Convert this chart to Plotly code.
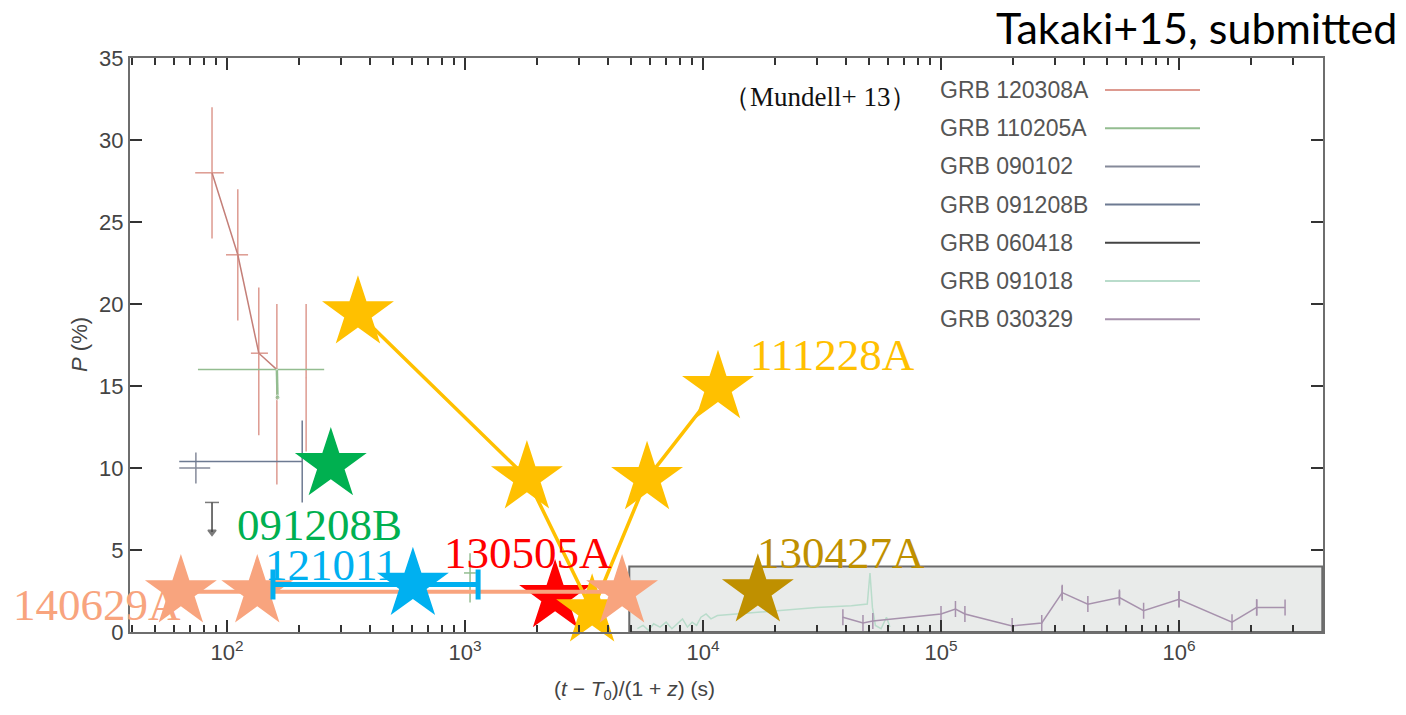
import math
import plotly.graph_objects as go

# ---------------- data ----------------
# Mundell+13 comparison sample
grb120308a_t = [86.5, 111, 136, 162]
grb120308a_p = [28, 23, 17, 16]
grb120308a_p_hi = [4, 4, 4, 4]
grb120308a_p_lo = [4, 4, 5, 7]
grb120308a_t_hi = [10.5, 11.6, 12.6, 0]
grb120308a_t_lo = [13, 12, 10, 0]
grb120308a_extra_t = [215]
grb120308a_extra_p = [15.5]
grb120308a_extra_err = [4.5]

grb110205a_t = [162, 163]
grb110205a_p = [16, 14.3]
grb110205a_t_hi = [94, 0]
grb110205a_t_lo = [86.5, 0]
grb110205a_late_t = [1050]
grb110205a_late_p = [3.6]
grb110205a_late_p_hi = [1.2]
grb110205a_late_p_lo = [1.8]
grb110205a_late_t_err = [60]

grb090102_t = [74]
grb090102_p = [10]
grb090102_t_err = [11]
grb090102_p_err = [0.95]

grb091208b_t = [207]
grb091208b_p = [10.4]
grb091208b_t_lo = [144]
grb091208b_p_err = [2.5]

grb060418_t = [86.5, 86.5]
grb060418_p = [7.9, 6.1]

grb091018_t = [5300, 5600, 5900, 6200, 6600, 7000, 7400, 7800, 8200, 8600, 9000,
               9400, 9800, 10300, 10800, 11500, 14000, 20000, 30000, 42000, 49000,
               50300, 51500, 53000, 56000, 59000, 61000]
grb091018_p = [0.2, 0.4, 0.1, 0.5, 0.3, 0.6, 0.2, 0.5, 0.8, 0.3, 0.6,
               0.4, 0.9, 1.1, 0.8, 1.0, 1.1, 1.3, 1.5, 1.6, 1.7,
               3.6, 1.5, 0.4, 0.2, 0.9, 0.3]

grb030329_t = [38700, 47000, 51700, 100000, 115000, 126000, 199000, 265000,
               323000, 414000, 562000, 710000, 1.0e6, 1.67e6, 2.12e6]
grb030329_p = [0.9, 0.55, 0.67, 1.1, 1.4, 1.1, 0.37, 0.55,
               2.4, 1.7, 2.1, 1.3, 2.0, 0.6, 1.5]
grb030329_p_err = [0, 0, 0, 0, 0, 0, 0, 0, 0.4, 0, 0.4, 0, 0.5, 0, 0.5]
grb030329_t_hi = [0, 0, 0, 0, 0, 0, 0, 0, 0, 0, 0, 0, 0, 0, 0.67e6]

grey_box_t = [4900, 4.0e6]
grey_box_p = [0, 4]

# Takaki+15 points
grb111228a_t = [355, 1820, 3420, 5820, 11560]
grb111228a_p = [19.45, 9.4, 1.28, 9.35, 14.9]
grb091208b_star_t = [273]
grb091208b_star_p = [10.2]
grb121011_t = [604]
grb121011_p = [2.9]
grb121011_t_lo = [448]
grb121011_t_hi = [531]
grb130505a_t = [2390]
grb130505a_p = [2.15]
grb130427a_t = [17000]
grb130427a_p = [2.5]
grb140629a_t = [64, 134, 4570]
grb140629a_p = [2.45, 2.45, 2.45]

# label positions (t, P)
star_labels = ["111228A", "091208B", "121011", "130505A", "130427A", "140629A"]
star_label_t = [10**4.19, 10**2.387, 10**2.437, 10**3.265, 10**4.58, 10**1.454]
star_label_p = [16.9, 6.5, 4.1, 4.8, 4.8, 1.65]
star_label_anchor = ["left", "center", "center", "center", "center", "center"]

legend_names = ["GRB 120308A", "GRB 110205A", "GRB 090102", "GRB 091208B",
                "GRB 060418", "GRB 091018", "GRB 030329"]

x_major_ticks = [1e2, 1e3, 1e4, 1e5, 1e6]
x_major_text = ["10<sup>2</sup>", "10<sup>3</sup>", "10<sup>4</sup>",
                "10<sup>5</sup>", "10<sup>6</sup>"]
x_minor_ticks = [m * 10**e for e in range(1, 7) for m in range(2, 10)]

# ---------------- styles ----------------
C120308 = "#dd9a90"
C110205 = "#93bd90"
C090102 = "#858a9a"
C091208 = "#6d7a92"
C060418 = "#444444"
C091018 = "#b9dccb"
C030329 = "#a792ad"
legend_colors = [C120308, C110205, C090102, C091208, C060418, C091018, C030329]

GOLD = "#FFC000"
GREEN = "#00B050"
BLUE = "#00B0F0"
RED = "#FF0000"
DKGOLD = "#BF9000"
SALMON = "#F8A47E"
label_colors = [GOLD, GREEN, BLUE, RED, DKGOLD, SALMON]

STAR = 54
TICKC = "#333333"

fig = go.Figure()

# grey box region
fig.add_trace(go.Scatter(
    x=[grey_box_t[0], grey_box_t[1], grey_box_t[1], grey_box_t[0], grey_box_t[0]],
    y=[grey_box_p[0], grey_box_p[0], grey_box_p[1], grey_box_p[1], grey_box_p[0]],
    mode="lines", fill="toself", fillcolor="#e9ebea",
    line=dict(color="#6a6a6a", width=2), hoverinfo="skip"))

# Mundell data
fig.add_trace(go.Scatter(
    x=grb091018_t, y=grb091018_p, mode="lines",
    line=dict(color=C091018, width=1.5)))
fig.add_trace(go.Scatter(
    x=grb030329_t, y=grb030329_p, mode="lines+markers",
    marker=dict(size=1, color=C030329),
    line=dict(color=C030329, width=1.5),
    error_y=dict(type="data", array=grb030329_p_err, color=C030329, thickness=1.5, width=0),
    error_x=dict(type="data", array=grb030329_t_hi, arrayminus=[0]*len(grb030329_t),
                 color=C030329, thickness=1.5, width=8)))
fig.add_trace(go.Scatter(
    x=grb120308a_t, y=grb120308a_p, mode="lines+markers",
    marker=dict(size=1, color=C120308),
    line=dict(color="#c47f78", width=1.5),
    error_y=dict(type="data", array=grb120308a_p_hi, arrayminus=grb120308a_p_lo,
                 color=C120308, thickness=1.5, width=0),
    error_x=dict(type="data", array=grb120308a_t_hi, arrayminus=grb120308a_t_lo,
                 color=C120308, thickness=1.5, width=0)))
fig.add_trace(go.Scatter(
    x=grb120308a_extra_t, y=grb120308a_extra_p, mode="markers",
    marker=dict(size=1, color=C120308),
    error_y=dict(type="data", array=grb120308a_extra_err, color=C120308,
                 thickness=1.5, width=0)))
fig.add_trace(go.Scatter(
    x=grb110205a_t, y=grb110205a_p, mode="lines+markers",
    marker=dict(size=[1, 5], color=C110205),
    line=dict(color=C110205, width=2.5),
    error_x=dict(type="data", array=grb110205a_t_hi, arrayminus=grb110205a_t_lo,
                 color=C110205, thickness=1.5, width=0)))
fig.add_trace(go.Scatter(
    x=grb110205a_late_t, y=grb110205a_late_p, mode="markers",
    marker=dict(size=1, color=C110205),
    error_y=dict(type="data", array=grb110205a_late_p_hi, arrayminus=grb110205a_late_p_lo,
                 color=C110205, thickness=1.5, width=0),
    error_x=dict(type="data", array=grb110205a_late_t_err, color=C110205,
                 thickness=1.5, width=0)))
fig.add_trace(go.Scatter(
    x=grb090102_t, y=grb090102_p, mode="markers",
    marker=dict(size=1, color=C090102),
    error_y=dict(type="data", array=grb090102_p_err, color=C090102, thickness=1.5, width=0),
    error_x=dict(type="data", array=grb090102_t_err, color=C090102, thickness=1.5, width=0)))
fig.add_trace(go.Scatter(
    x=grb091208b_t, y=grb091208b_p, mode="markers",
    marker=dict(size=1, color=C091208),
    error_y=dict(type="data", array=grb091208b_p_err, color=C091208, thickness=1.5, width=0),
    error_x=dict(type="data", array=[0], arrayminus=grb091208b_t_lo, color=C091208,
                 thickness=1.5, width=0)))
fig.add_trace(go.Scatter(
    x=grb060418_t, y=grb060418_p, mode="lines+markers",
    line=dict(color=C060418, width=1.5),
    marker=dict(symbol=["line-ew", "triangle-down"], size=[10, 7], color=C060418,
                line=dict(color=C060418, width=1.5))))

# Takaki+15 stars
fig.add_trace(go.Scatter(
    x=grb091208b_star_t, y=grb091208b_star_p, mode="markers", cliponaxis=False,
    marker=dict(symbol="star", size=STAR, color=GREEN, line=dict(width=0))))
fig.add_trace(go.Scatter(
    x=grb130505a_t, y=grb130505a_p, mode="markers", cliponaxis=False,
    marker=dict(symbol="star", size=STAR, color=RED, line=dict(width=0))))
fig.add_trace(go.Scatter(
    x=grb111228a_t, y=grb111228a_p, mode="lines+markers", cliponaxis=False,
    line=dict(color=GOLD, width=3.5),
    marker=dict(symbol="star", size=STAR, color=GOLD, line=dict(width=0))))
fig.add_trace(go.Scatter(
    x=grb140629a_t, y=grb140629a_p, mode="lines+markers", cliponaxis=False,
    line=dict(color=SALMON, width=4),
    marker=dict(symbol="star", size=STAR, color=SALMON, line=dict(width=0))))
fig.add_trace(go.Scatter(
    x=grb121011_t, y=grb121011_p, mode="markers", cliponaxis=False,
    marker=dict(symbol="star", size=STAR, color=BLUE, line=dict(width=0)),
    error_x=dict(type="data", array=grb121011_t_hi, arrayminus=grb121011_t_lo,
                 color=BLUE, thickness=5, width=15)))
# top-most trace lives on the overlay axis (same range) that carries minor ticks
fig.add_trace(go.Scatter(
    x=grb130427a_t, y=grb130427a_p, mode="markers", cliponaxis=False,
    xaxis="x2", yaxis="y",
    marker=dict(symbol="star", size=STAR, color=DKGOLD, line=dict(width=0))))

# ---------------- layout ----------------
L, R, T, B = 130, 83, 58, 83
W, H = 1406, 715
pw, ph = W - L - R, H - T - B
XR = [1.5924, 6.605]
YR = [0, 35]


def px2paper_x(px):
    return (px - L) / pw


def px2paper_y(py):
    return (H - B - py) / ph


annotations = []
for name, t, p, col, anc in zip(star_labels, star_label_t, star_label_p,
                                label_colors, star_label_anchor):
    # paper coordinates so labels outside the axis range stay visible
    xp = (math.log10(t) - XR[0]) / (XR[1] - XR[0])
    yp = (p - YR[0]) / (YR[1] - YR[0])
    annotations.append(dict(
        x=xp, y=yp, xref="paper", yref="paper", text=name, showarrow=False,
        xanchor=anc, yanchor="middle",
        font=dict(family="Liberation Serif, serif", size=45, color=col)))

# manual legend
for i, (name, col) in enumerate(zip(legend_names, legend_colors)):
    yy = px2paper_y(90 + 38.2 * i)
    annotations.append(dict(
        x=px2paper_x(938), y=yy, xref="paper", yref="paper", text=name,
        showarrow=False, xanchor="left", yanchor="middle",
        font=dict(family="Liberation Sans, Arial", size=23, color="#555555")))

shapes = []
for i, col in enumerate(legend_colors):
    yy = px2paper_y(90 + 38.2 * i)
    shapes.append(dict(type="line", xref="paper", yref="paper",
                       x0=px2paper_x(1105), x1=px2paper_x(1200), y0=yy, y1=yy,
                       line=dict(color=col, width=2)))

annotations.append(dict(
    x=px2paper_x(820), y=px2paper_y(97), xref="paper", yref="paper",
    text="（Mundell+ 13）", showarrow=False, xanchor="center", yanchor="middle",
    font=dict(family="Liberation Serif, serif", size=27, color="#111111")))
annotations.append(dict(
    x=px2paper_x(1399), y=px2paper_y(28), xref="paper", yref="paper",
    text="Takaki+15, submitted", showarrow=False, xanchor="right", yanchor="middle",
    font=dict(family="Lato, Liberation Sans", size=43, color="#000000")))
annotations.append(dict(
    x=px2paper_x(634), y=px2paper_y(690), xref="paper", yref="paper",
    text="(<i>t</i> − <i>T</i><sub>0</sub>)/(1 + <i>z</i>) (s)", showarrow=False,
    xanchor="center", yanchor="middle",
    font=dict(family="Liberation Sans, Arial", size=21, color="#444444")))
annotations.append(dict(
    x=px2paper_x(79), y=0.5, xref="paper", yref="paper",
    text="<i>P</i> (%)", showarrow=False, textangle=-90,
    xanchor="center", yanchor="middle",
    font=dict(family="Liberation Sans, Arial", size=22, color="#444444")))

axis_common = dict(
    showline=True, linecolor="#6e6e6e", linewidth=2, mirror="ticks",
    ticks="inside", ticklen=12, tickwidth=2, tickcolor=TICKC,
    showgrid=False, zeroline=False,
    tickfont=dict(family="Liberation Sans, Arial", size=22, color="#444444"),
)

fig.update_layout(
    width=W, height=H,
    margin=dict(l=L, r=R, t=T, b=B),
    paper_bgcolor="white", plot_bgcolor="white",
    showlegend=False,
    xaxis=dict(type="log", range=XR, tickmode="array", tickvals=x_major_ticks,
               ticktext=x_major_text, **axis_common),
    # overlay axis that only carries the short minor ticks
    xaxis2=dict(type="log", range=XR, overlaying="x", side="bottom", anchor="y",
                tickmode="array", tickvals=x_minor_ticks, showticklabels=False,
                ticks="inside", ticklen=7, tickwidth=2, tickcolor=TICKC,
                showline=True, linecolor="#6e6e6e", linewidth=2, mirror="ticks",
                showgrid=False, zeroline=False),
    yaxis=dict(range=YR, dtick=5, **axis_common),
    annotations=annotations,
    shapes=shapes,
)

fig.write_html("out.html")
